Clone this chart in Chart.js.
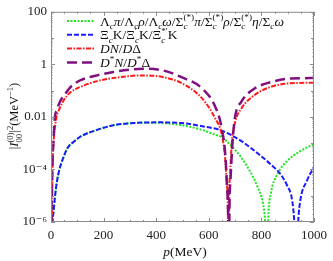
<!DOCTYPE html>
<html>
<head>
<meta charset="utf-8">
<script src="https://cdn.jsdelivr.net/npm/chart.js@4.4.0/dist/chart.umd.min.js"></script>
<style>
    html, body { margin: 0; padding: 0; background: #fff; }
</style>
</head>
<body>
<canvas id="chart" width="333" height="261"></canvas>
<script>
// Données (p en MeV, |I|^2 en MeV^-1)
const pGreen = [0, 6, 9, 15, 22, 32, 45, 63, 90, 113, 175, 237, 311, 398, 450, 500, 575, 624, 649, 687, 724, 761, 786, 806, 814, 821, 826, 836, 861, 898, 948, 1000];
const vGreen = [1e-9, 1e-6, 2.1e-6, 8.9e-6, 3.2e-5, 1e-4, 2.5e-4, 6.6e-4, 1.2e-3, 1.8e-3, 3.2e-3, 4.8e-3, 5.8e-3, 6e-3, 5.6e-3, 4.8e-3, 3.2e-3, 2.1e-3, 1.7e-3, 7.6e-4, 2.8e-4, 7.1e-5, 2.1e-5, 5e-6, 1e-6, 1e-8, 1.3e-6, 1.2e-5, 6.6e-5, 2.1e-4, 5e-4, 9.3e-4];

const pBlue = [0, 6, 9, 15, 22, 32, 45, 63, 90, 113, 175, 237, 311, 398, 498, 575, 649, 724, 799, 848, 873, 898, 917, 925, 933, 940, 948, 973, 1000];
const vBlue = [1e-9, 1e-6, 2.1e-6, 8.9e-6, 3.2e-5, 1e-4, 2.5e-4, 6.6e-4, 1.2e-3, 1.8e-3, 3.2e-3, 4.8e-3, 5.8e-3, 6.2e-3, 5.8e-3, 4.4e-3, 3.0e-3, 1.2e-3, 3.2e-4, 1.2e-4, 6.6e-5, 2.4e-5, 6.6e-6, 1e-6, 1e-8, 1e-6, 6.6e-6, 3.7e-5, 1.26e-4];

const pRed = [0, 3, 6, 11, 21, 30, 45, 60, 75, 113, 175, 237, 299, 349, 424, 498, 575, 624, 649, 662, 668, 672, 675, 678, 681, 687, 699, 724, 774, 836, 910, 1000];
const vRed = [1e-9, 1e-6, 1.6e-4, 1.6e-3, 1e-2, 1.8e-2, 3.8e-2, 6.3e-2, 8.9e-2, 0.14, 0.23, 0.30, 0.36, 0.38, 0.33, 0.19, 0.050, 8.9e-3, 2.2e-3, 2.8e-4, 3.2e-5, 5.8e-6, 1e-8, 1.6e-5, 6.3e-5, 8.9e-4, 5.8e-3, 0.021, 0.068, 0.14, 0.19, 0.20];

const pPurple = [0, 2, 5, 9, 15, 22, 34, 51, 75, 113, 175, 237, 299, 349, 424, 498, 575, 624, 649, 664, 670, 673, 676, 679, 682, 690, 699, 724, 774, 836, 910, 1000];
const vPurple = [1e-9, 1e-6, 1e-4, 1e-3, 1e-2, 1.8e-2, 3.8e-2, 6.8e-2, 0.14, 0.25, 0.38, 0.51, 0.63, 0.68, 0.59, 0.32, 0.12, 0.025, 3.8e-3, 2.5e-4, 1.6e-5, 4e-6, 1e-8, 7.9e-6, 3.2e-5, 1e-3, 8.9e-3, 0.038, 0.12, 0.21, 0.29, 0.30];

const xTicks = [0, 200, 400, 600, 800, 1000];
const yTickVals = [1e-6, 1e-4, 1e-2, 1, 100];
const yTickLabels = ['10⁻⁶', '10⁻⁴', '0.01', '1', '100'];

const FONT = '"Liberation Serif", "DejaVu Serif", serif';

// petits morceaux de texte riche (indices / exposants)
function seg(t, it, v, k) { return { t: t, it: !!it, v: v || 0, k: !!k }; }
const N = t => seg(t);
const I = t => seg(t, 1);
const Sb = (t, it) => seg(t, it === undefined ? 1 : it, -1);
const Sp = t => seg(t, 0, 1);
const St = (a, b, it) => [seg(a, it === undefined ? 1 : it, -1, 1), seg(b, 0, 1)];

const legendLabels = [
    [N('Λ'), Sb('c'), I('π'), N('/Λ'), Sb('c'), I('ρ'), N('/Λ'), Sb('c'), I('ω'), N('/Σ'), St('c', '(*)'), I('π'),
     N('/Σ'), St('c', '(*)'), I('ρ'), N('/Σ'), St('c', '(*)'), I('η'), N('/Σ'), Sb('c'), I('ω')].flat(),
    [N('Ξ'), Sb('c'), N('K/Ξ'), St('c', '′'), N('K/Ξ'), St('c', '*′'), N('K')].flat(),
    [I('DN'), N('/'), I('D'), N('Δ')],
    [I('D'), Sp('*'), I('N'), N('/'), I('D'), Sp('*'), N('Δ')]
];
const yTitle = [N('|'), I('I'), St('00', '(0)', 0), N('|'), Sp('2'), N('(MeV'), Sp('−1'), N(')')].flat();
const xTitle = [I('p'), N('(MeV)')];

function drawRich(ctx, segs, x, y, size, draw) {
    let cx = x, kept = 0;
    segs.forEach(s => {
        const fs = s.v ? size * 0.68 : size;
        ctx.font = (s.it ? 'italic ' : '') + fs + 'px ' + FONT;
        const w = ctx.measureText(s.t).width;
        const dy = s.v === -1 ? size * 0.28 : (s.v === 1 ? -size * 0.4 : 0);
        if (draw) ctx.fillText(s.t, cx, y + dy);
        if (s.k) {
            kept = w;
        } else {
            cx += Math.max(w, kept);
            kept = 0;
        }
    });
    return cx - x;
}

function toPoints(ps, vs) {
    return ps.map((p, i) => ({ x: p, y: vs[i] }));
}

// Cadre, graduations internes, légende et titres
const decorPlugin = {
    id: 'decor',
    afterDraw(chart) {
        const ctx = chart.ctx;
        const a = chart.chartArea;
        const xs = chart.scales.x, ys = chart.scales.y;
        ctx.save();
        ctx.strokeStyle = '#8a8a8a';
        ctx.lineWidth = 1;
        ctx.setLineDash([]);
        ctx.strokeRect(a.left + 0.5, a.top + 0.5, a.right - a.left - 1, a.bottom - a.top - 1);

        ctx.beginPath();
        for (let p = 0; p <= 1000; p += 50) {
            const x = Math.round(xs.getPixelForValue(p)) + 0.5;
            const len = p % 200 === 0 ? 4 : 2;
            ctx.moveTo(x, a.bottom); ctx.lineTo(x, a.bottom - len);
            ctx.moveTo(x, a.top); ctx.lineTo(x, a.top + len);
        }
        for (let e = -6; e <= 2; e++) {
            for (let m = 1; m <= 9; m++) {
                const v = m * Math.pow(10, e);
                if (v > 100) break;
                const y = Math.round(ys.getPixelForValue(v)) + 0.5;
                let len = 1.5;
                if (m === 1) len = (e % 2 === 0) ? 4 : 3;
                ctx.moveTo(a.left, y); ctx.lineTo(a.left + len, y);
                ctx.moveTo(a.right, y); ctx.lineTo(a.right - len, y);
            }
        }
        ctx.stroke();

        // légende
        ctx.fillStyle = '#111';
        ctx.textAlign = 'left';
        ctx.textBaseline = 'alphabetic';
        chart.data.datasets.forEach((ds, i) => {
            const yc = 21 + i * 13.8;
            ctx.beginPath();
            ctx.strokeStyle = ds.borderColor;
            ctx.lineWidth = ds.borderWidth;
            ctx.setLineDash(ds.borderDash);
            ctx.moveTo(67, yc);
            ctx.lineTo(95, yc);
            ctx.stroke();
            ctx.setLineDash([]);
            drawRich(ctx, legendLabels[i], 100, yc + 4.6, 13.5, true);
        });

        // titres des axes
        const wx = drawRich(ctx, xTitle, 0, 0, 13.5, false);
        drawRich(ctx, xTitle, 185 - wx / 2, 256, 13.5, true);
        ctx.translate(14, 116);
        ctx.rotate(-Math.PI / 2);
        const wy = drawRich(ctx, yTitle, 0, 0, 12.5, false);
        drawRich(ctx, yTitle, -wy / 2, 4, 12.5, true);
        ctx.restore();
    }
};

function initChart() {
    const ctx = document.getElementById('chart').getContext('2d');
    const common = { fill: false, pointRadius: 0, cubicInterpolationMode: 'monotone', clip: 0, borderCapStyle: 'butt' };

    new Chart(ctx, {
        type: 'line',
        data: {
            datasets: [
                Object.assign({ label: 'green', data: toPoints(pGreen, vGreen), borderColor: '#1ee61e', borderWidth: 2, borderDash: [2, 1.5], order: 3 }, common),
                Object.assign({ label: 'blue', data: toPoints(pBlue, vBlue), borderColor: '#1a1aff', borderWidth: 2, borderDash: [5, 2], order: 2 }, common),
                Object.assign({ label: 'red', data: toPoints(pRed, vRed), borderColor: '#ff1a1a', borderWidth: 2, borderDash: [5, 1.5, 1.5, 1.5], order: 1 }, common),
                Object.assign({ label: 'purple', data: toPoints(pPurple, vPurple), borderColor: '#80107f', borderWidth: 2.5, borderDash: [10, 5], order: 0 }, common)
            ]
        },
        options: {
            responsive: false,
            animation: false,
            layout: { padding: { top: 9, right: 14, left: 0, bottom: 0 } },
            plugins: { legend: { display: false }, tooltip: { enabled: false } },
            scales: {
                x: {
                    type: 'linear',
                    min: 0,
                    max: 1000,
                    afterFit: s => { s.height = 39; },
                    afterBuildTicks: s => { s.ticks = xTicks.map(v => ({ value: v })); },
                    grid: { display: false, drawTicks: false },
                    border: { display: false },
                    ticks: {
                        padding: 6,
                        color: '#222',
                        font: { family: FONT, size: 13 },
                        maxRotation: 0,
                        autoSkip: false,
                        callback: v => String(v)
                    }
                },
                y: {
                    type: 'logarithmic',
                    min: 1e-6,
                    max: 100,
                    afterFit: s => { s.width = 51; },
                    afterBuildTicks: s => { s.ticks = yTickVals.map(v => ({ value: v })); },
                    grid: { display: false, drawTicks: false },
                    border: { display: false },
                    ticks: {
                        padding: 4,
                        color: '#222',
                        font: { family: FONT, size: 13 },
                        autoSkip: false,
                        callback: v => yTickLabels[yTickVals.findIndex(t => Math.abs(Math.log10(t) - Math.log10(v)) < 1e-6)]
                    }
                }
            }
        },
        plugins: [decorPlugin]
    });
}

initChart();
</script>
</body>
</html>
